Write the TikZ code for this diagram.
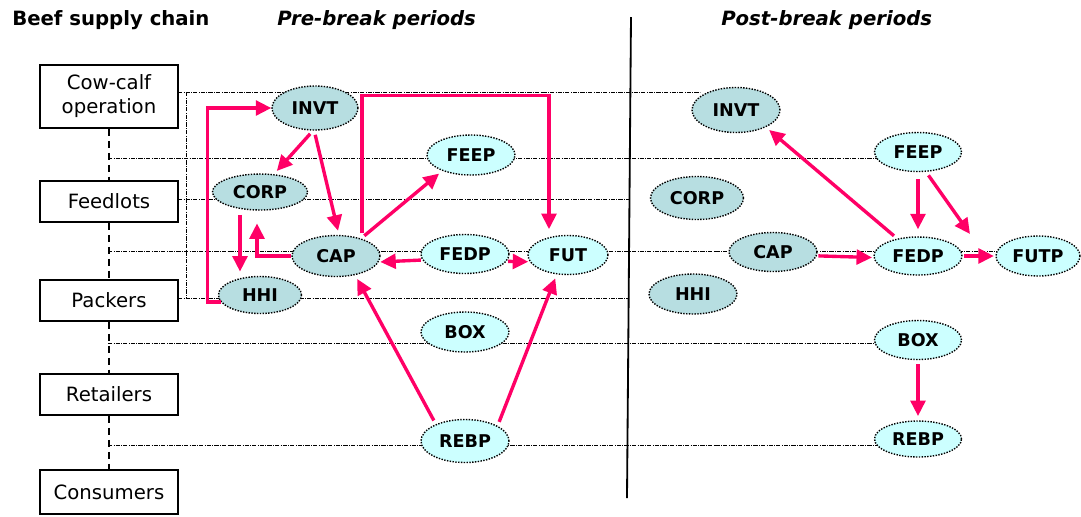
\documentclass[tikz,border=0pt]{standalone}
\usepackage{fontspec}
\setmainfont{DejaVu Sans}
\usetikzlibrary{arrows.meta,shapes.geometric}
\definecolor{capteal}{RGB}{183,222,225}
\definecolor{pricecyan}{RGB}{204,255,255}
\definecolor{linkpink}{RGB}{255,0,102}

\begin{document}
\begin{tikzpicture}[
        x=0.025cm, y=-0.025cm,
        stage/.style={draw, line width=1.3pt, align=center, minimum width=3.45cm,
                      minimum height=1.025cm, font=\fontsize{14}{17}\selectfont},
        var/.style={ellipse, draw, densely dotted, line width=1pt, inner sep=0pt,
                    minimum width=2.2cm, minimum height=1cm,
                    font=\bfseries\fontsize{12.5}{14}\selectfont},
        dark/.style={var, fill=capteal},
        light/.style={var, fill=pricecyan},
        link/.style={-{Triangle[length=11pt,width=10.5pt]}, line width=2.4pt,
                     color=linkpink, shorten <=3pt, shorten >=3pt},
        guide/.style={densely dashdotted, line width=0.5pt},
        tier/.style={dash pattern=on 5pt off 3.5pt, line width=1.3pt},
        heading/.style={anchor=base west, inner sep=0pt,
                        font=\bfseries\fontsize{14}{16}\selectfont}
    ]
    \useasboundingbox (0,0) rectangle (1081,516);

    % row guides
    \draw[guide] (178,92) -- (700,92);
    \draw[guide] (108,158) -- (880,158);
    \draw[guide] (178,199) -- (631,199);
    \draw[guide] (108,251) -- (1000,251);
    \draw[guide] (178,298) -- (629,298);
    \draw[guide] (108,343) -- (878,343);
    \draw[guide] (108,445) -- (878,445);
    \draw[guide] (186,92) -- (186,298);
    \draw[line width=1.3pt] (631,17) -- (627,498);

    \node[heading] (chainT) at (12,25) {Beef supply chain};
    \node[heading, font=\bfseries\itshape\fontsize{14}{16}\selectfont] (preT) at (277,25) {Pre-break periods};
    \node[heading, font=\bfseries\itshape\fontsize{14}{16}\selectfont] (postT) at (721,25) {Post-break periods};

    \node[stage, minimum height=1.575cm] (cow) at (109,96.5) {Cow-calf\\operation};
    \node[stage] (feed) at (109,201.5) {Feedlots};
    \node[stage] (pack) at (109,300.5) {Packers};
    \node[stage] (retail) at (109,394.5) {Retailers};
    \node[stage, minimum height=1.1cm] (cons) at (109,492) {Consumers};

    \draw[tier] (cow.south) -- (feed.north);
    \draw[tier] (feed.south) -- (pack.north);
    \draw[tier] (pack.south) -- (retail.north);
    \draw[tier] (retail.south) -- (cons.north);

    % pre-break
    \node[dark, minimum width=2.15cm, minimum height=1.1cm] (invtA) at (315,108) {INVT};
    \node[light] (feepA) at (471,155) {FEEP};
    \node[dark, minimum width=2.375cm, minimum height=0.9cm] (corpA) at (260,192) {CORP};
    \node[dark, minimum height=1.025cm] (capA) at (336,256) {CAP};
    \node[dark, minimum width=2.075cm, minimum height=0.925cm] (hhiA) at (260,295) {HHI};
    \node[light, minimum height=0.975cm] (fedpA) at (465,254) {FEDP};
    \node[light, minimum width=2cm, minimum height=0.975cm] (futA) at (568,255) {FUT};
    \node[light] (boxA) at (465,332) {BOX};
    \node[light, minimum height=1.075cm] (rebpA) at (465,441) {REBP};

    % post-break
    \node[dark, minimum height=1.125cm] (invtB) at (736,110) {INVT};
    \node[light, minimum width=2.175cm, minimum height=0.975cm] (feepB) at (918,152) {FEEP};
    \node[dark, minimum width=2.325cm, minimum height=1.075cm] (corpB) at (697,198) {CORP};
    \node[dark, minimum height=0.975cm] (capB) at (773,252) {CAP};
    \node[light, minimum height=0.95cm] (fedpB) at (918,256) {FEDP};
    \node[light, minimum width=2.1cm] (futpB) at (1038,256) {FUTP};
    \node[dark] (hhiB) at (693,294) {HHI};
    \node[light, minimum width=2.175cm, minimum height=0.975cm] (boxB) at (918,340) {BOX};
    \node[light, minimum width=2.175cm, minimum height=0.9cm] (rebpB) at (918,439) {REBP};
    \coordinate (futpTip) at (970,234);

    \draw[link, shorten <=0pt, shorten >=0pt] (hhiA.190) -- ++(-13,0) |- (invtA.west);
    \draw[link] (invtA.265) -- (corpA.52);
    \draw[link] (invtA.-92) -- (capA.82);
    \draw[link] ([xshift=-5mm]corpA.south) -- ([xshift=-5mm]hhiA.north);
    \draw[link, shorten <=0pt, shorten >=9pt] (capA.west) -| ([xshift=-0.75mm]corpA.south);
    \draw[link] (capA.35) -- (feepA.209);
    \draw[link, shorten <=1pt, shorten >=4pt] ([xshift=6.5mm]capA.north) -- ++(0,-139)
        -| ([xshift=-4.75mm]futA.north);
    \draw[link, shorten <=1pt, shorten >=1pt] (fedpA.188) -- (capA.-8);
    \draw[link, shorten <=1pt, shorten >=1pt] (fedpA.-10) -- (futA.190);
    \draw[link] (rebpA.150) -- (capA.-45);
    \draw[link] (rebpA.25) -- (futA.240);

    \draw[link] (fedpB.140) -- (invtB.-30);
    \draw[link, shorten <=5pt, shorten >=5pt] (feepB.south) -- (fedpB.north);
    \draw[link, shorten >=0pt] (feepB.-68) -- (futpTip);
    \draw[link, shorten <=1pt, shorten >=1pt] (capB.-5) -- (fedpB.182);
    \draw[link, shorten <=1pt, shorten >=1pt] (fedpB.east) -- (futpB.west);
    \draw[link] (boxB.south) -- (rebpB.north);
\end{tikzpicture}
\end{document}
